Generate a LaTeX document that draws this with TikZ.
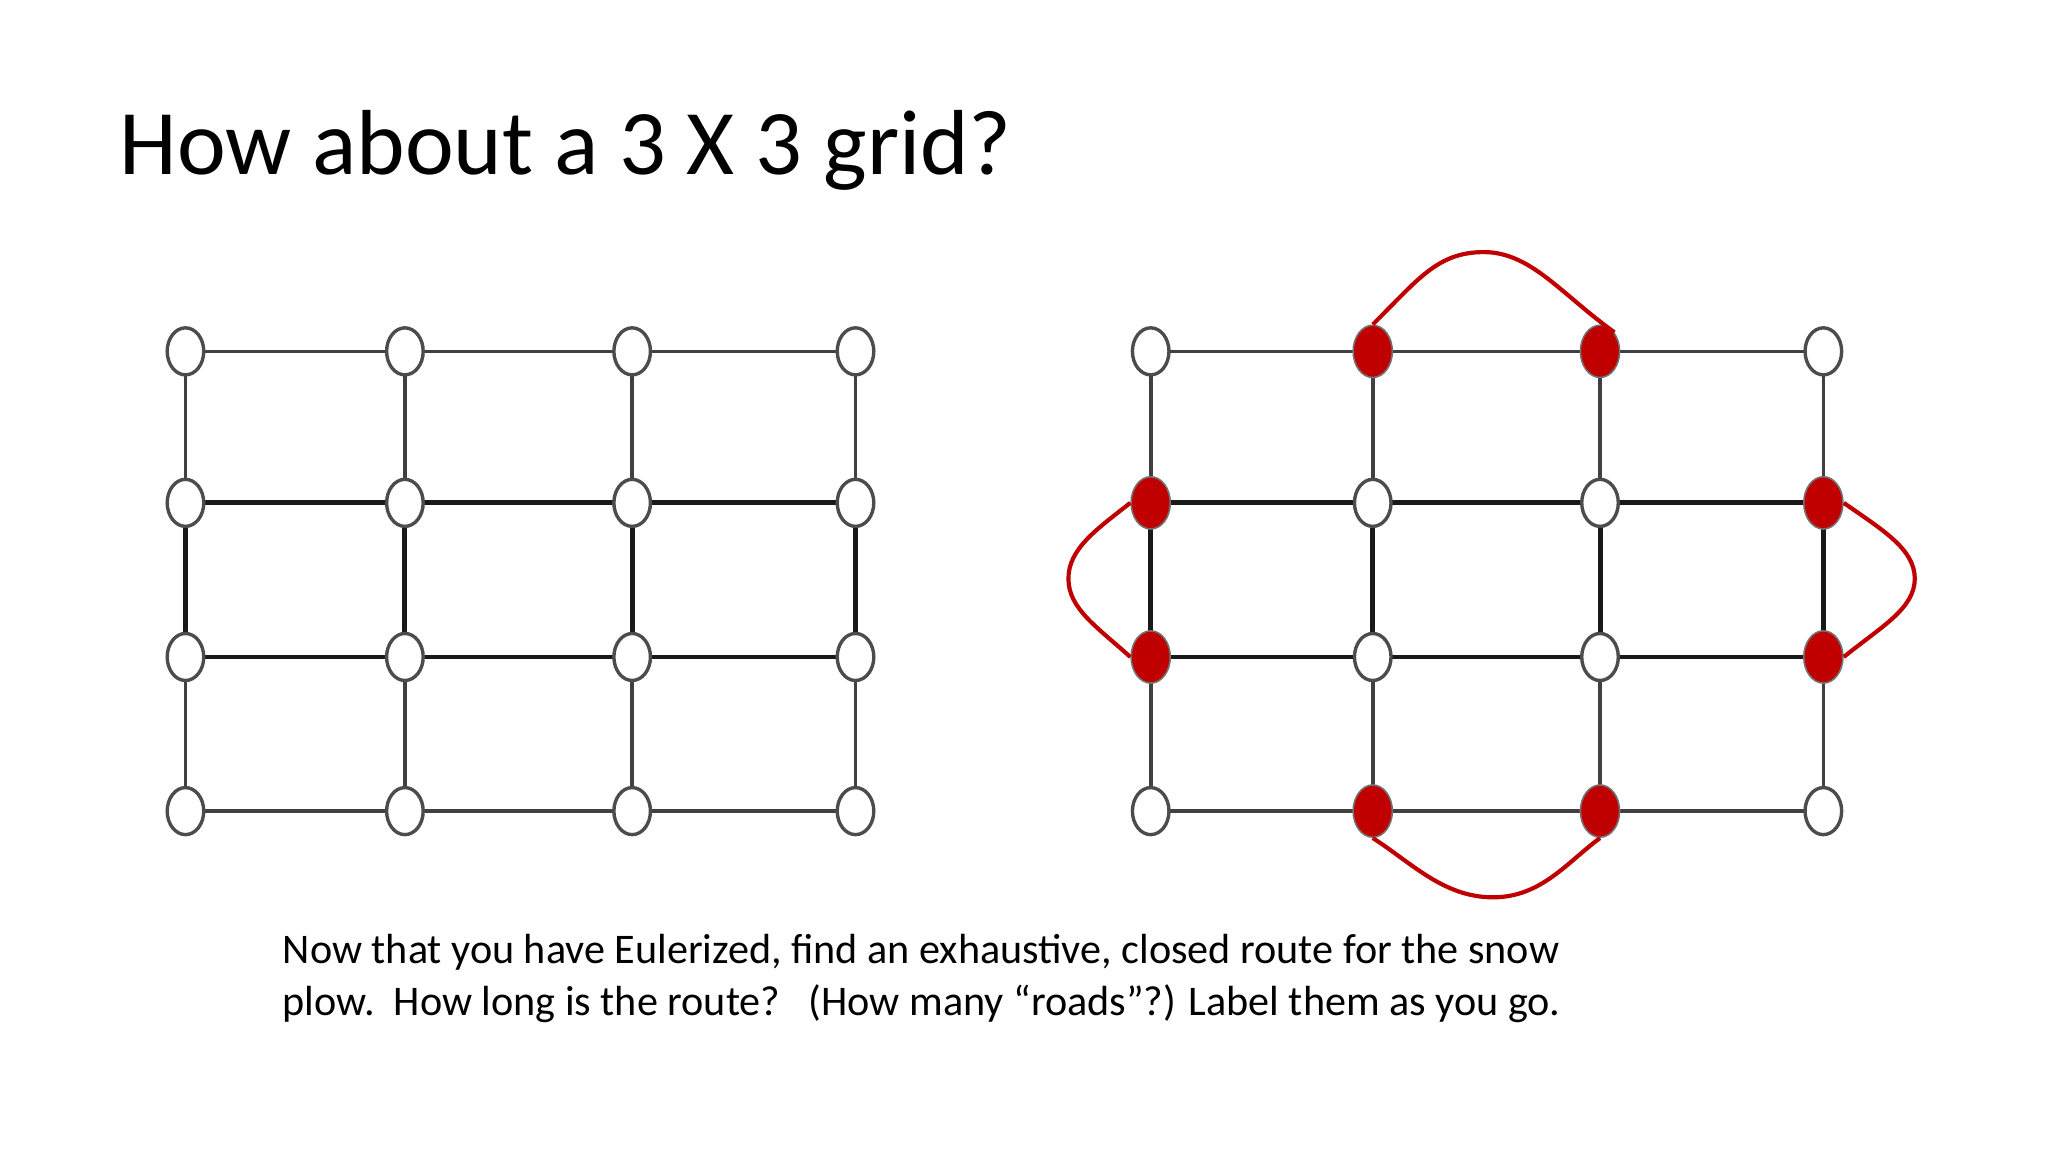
\documentclass[tikz,border=0pt]{standalone}
\usetikzlibrary{shapes.geometric}
\usepackage{fontspec}
\setmainfont{Carlito}
\definecolor{rd}{HTML}{C00000}
\begin{document}
\begin{tikzpicture}[x=1bp,y=-1bp,
  vtx/.style={ellipse,draw=black!70,line width=2.6bp,fill=white,minimum width=28bp,minimum height=36bp,inner sep=0pt},
  rvtx/.style={ellipse,draw=black!55,line width=1.2bp,fill=rd,minimum width=30bp,minimum height=40bp,inner sep=0pt},
  outer/.style={draw=black!75,line width=2.8bp},
  inner/.style={draw=black!90,line width=3.8bp},
  loop/.style={draw=rd,line width=3.2bp}]
\useasboundingbox (0,0) rectangle (1568,882);
\fill[white] (0,0) rectangle (1568,882);
\node[anchor=west,font=\fontsize{71}{75}\selectfont] (title) at (88,115) {How about a 3 X 3 grid?};
% grids
\foreach \g/\xa/\xb/\xc/\xd in {L/142/310/484/655, R/881/1051/1225/1396}{
  \foreach \c/\x in {1/\xa,2/\xb,3/\xc,4/\xd}{
    \foreach \r/\y in {1/269,2/385,3/503,4/621}{
      \coordinate (\g\c\r) at (\x,\y);
    }
  }
  \foreach \r in {1,4}{\draw[outer] (\g1\r) -- (\g2\r) -- (\g3\r) -- (\g4\r);}
  \foreach \r in {2,3}{\draw[inner] (\g1\r) -- (\g2\r) -- (\g3\r) -- (\g4\r);}
  \foreach \c in {1,2,3,4}{
    \draw[outer] (\g\c1) -- (\g\c2);
    \draw[inner] (\g\c2) -- (\g\c3);
    \draw[outer] (\g\c3) -- (\g\c4);
  }
}
\foreach \c in {1,2,3,4}{\foreach \r in {1,2,3,4}{\node[vtx] (nL\c\r) at (L\c\r) {};}}
\foreach \c/\r in {1/1,4/1,2/2,3/2,2/3,3/3,1/4,4/4}{\node[vtx] (nR\c\r) at (R\c\r) {};}
\foreach \c/\r in {2/1,3/1,1/2,4/2,1/3,4/3,2/4,3/4}{\node[rvtx] (nR\c\r) at (R\c\r) {};}
\draw[loop] (nR21.north) .. controls (1085,215) and (1100,193) .. (1136,193) .. controls (1172,193) and (1195,225) .. (nR31.north east);
\draw[loop] (nR24.south) .. controls (1080,660) and (1105,687) .. (1143,687) .. controls (1180,687) and (1200,660) .. (nR34.south);
\draw[loop] (nR12.west) .. controls (840,405) and (818,420) .. (818,443) .. controls (818,466) and (840,480) .. (nR13.west);
\draw[loop] (nR42.east) .. controls (1440,405) and (1466,420) .. (1466,443) .. controls (1466,466) and (1440,480) .. (nR43.east);
\node[anchor=north west,align=left,font=\fontsize{32.4}{40}\selectfont] (txt) at (213,712) {Now that you have Eulerized, find an exhaustive, closed route for the snow\\plow.\ \ How long is the route?\ \ \ (How many “roads”?) Label them as you go.};
\end{tikzpicture}
\end{document}
